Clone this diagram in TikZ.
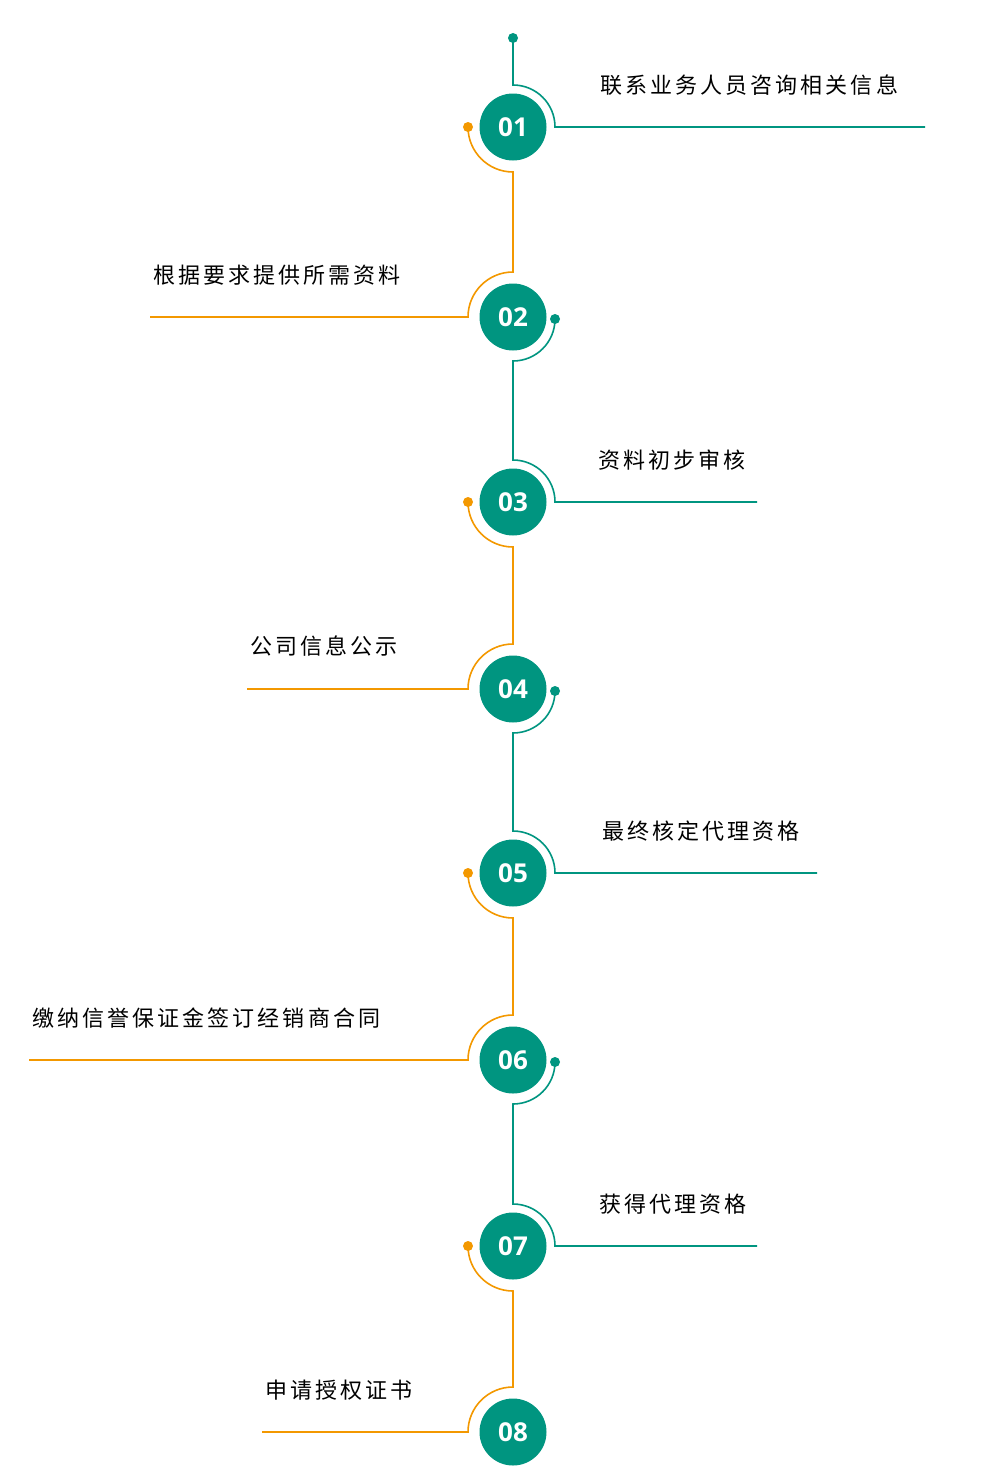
\documentclass[tikz,border=0pt]{standalone}
\usepackage{fontspec}
\setmainfont{Noto Sans CJK SC}
\newfontfamily\numfont{Open Sans}
\usetikzlibrary{calc}
\definecolor{tealc}{HTML}{009580}
\definecolor{orangec}{HTML}{F39800}
\tikzset{
  numdot/.style={circle, fill=tealc, minimum size=67pt, inner sep=0pt, text=white, font=\numfont\bfseries\fontsize{26}{26}\selectfont},
  tealline/.style={draw=tealc, line width=1.6pt},
  orangeline/.style={draw=orangec, line width=1.6pt},
  lbl/.style={font=\fontsize{22}{22}\selectfont\addfontfeatures{LetterSpace=14}, inner sep=0pt}
}
\begin{document}
\begin{tikzpicture}[x=1pt, y=1pt]
    \useasboundingbox (0,0) rectangle (1003,-1472);

    % Kreise
    \foreach \i/\y in {1/127, 2/317, 3/502, 4/689, 5/873, 6/1060, 7/1246, 8/1432} {
        \node[numdot] (n\i) at (513,-\y) {0\i};
    }

    % Anfang
    \coordinate (top) at (513,-38);
    \fill[tealc] (top) circle (5);
    \draw[tealline] (top) -- ($(n1)+(0,42)$) arc[start angle=90, end angle=0, radius=42] -- ++(370,0);

    % Orange Abschnitte
    \foreach \a/\b/\len in {1/2/318, 3/4/221, 5/6/439, 7/8/206} {
        \fill[orangec] ($(n\a)+(-45,0)$) circle (5);
        \draw[orangeline] ($(n\a)+(-45,0)$) arc[start angle=180, end angle=270, radius=45]
            -- ($(n\b)+(0,45)$) arc[start angle=90, end angle=180, radius=45] -- ++(-\len,0);
    }

    % Teal Abschnitte
    \foreach \a/\b/\len in {2/3/202, 4/5/262, 6/7/202} {
        \fill[tealc] ($(n\a)+(42,-2)$) circle (5);
        \draw[tealline] ($(n\a)+(42,-2)$) arc[start angle=0, end angle=-90, radius=42]
            -- ($(n\b)+(0,42)$) arc[start angle=90, end angle=0, radius=42] -- ++(\len,0);
    }

    % Beschriftungen rechts
    \node[lbl, anchor=west] (t1) at ($(n1)+(87,42)$) {联系业务人员咨询相关信息};
    \node[lbl, anchor=west] (t3) at ($(n3)+(85,42)$) {资料初步审核};
    \node[lbl, anchor=west] (t5) at ($(n5)+(89,42)$) {最终核定代理资格};
    \node[lbl, anchor=west] (t7) at ($(n7)+(86,42)$) {获得代理资格};

    % Beschriftungen links
    \node[lbl, anchor=west] (t2) at (153,-275) {根据要求提供所需资料};
    \node[lbl, anchor=west] (t4) at (250,-646) {公司信息公示};
    \node[lbl, anchor=west] (t6) at (32,-1018) {缴纳信誉保证金签订经销商合同};
    \node[lbl, anchor=west] (t8) at (265,-1390) {申请授权证书};
\end{tikzpicture}
\end{document}
